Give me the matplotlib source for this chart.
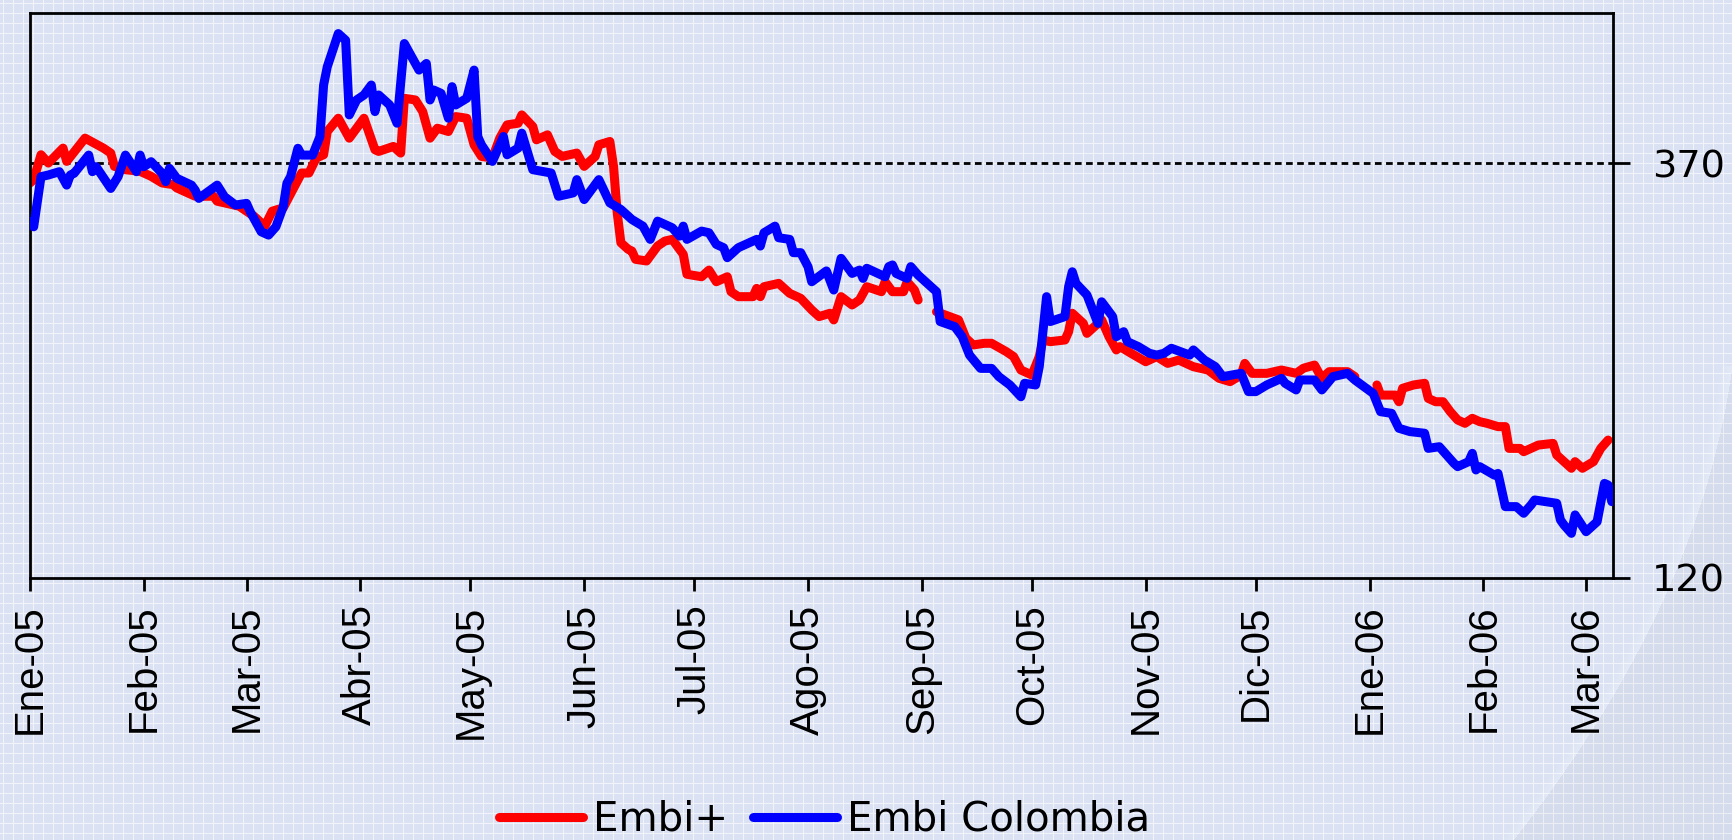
import numpy as np
import matplotlib
matplotlib.use("Agg")
from matplotlib import pyplot as plt

# days counted from 1 Jan 2005
start = np.datetime64('2005-01-01')

embi_days = [0, 1, 3, 5, 9, 10, 15, 20, 22, 23, 26, 30, 33, 36, 39, 40, 45, 50, 51, 57,
             61, 64, 66, 69, 74, 76, 78, 80, 81, 84, 87, 91, 94, 95, 99, 101, 102, 105, 107, 109,
             111, 114, 116, 119, 121, 123, 126, 128, 130, 133, 134, 137, 138, 141, 143, 145, 149, 151, 154, 155,
             158, 159, 160, 161, 163, 164, 165, 168, 171, 173, 175, 177, 178, 179, 183, 185, 187, 190, 191, 193,
             197, 198, 199, 200, 204, 207, 210, 213, 215, 218, 219, 221, 224, 226, 228, 232, 233, 235, 238, 239,
             241, 242, 244, 247, 253, 255, 257, 260, 262, 266, 268, 270, 273, 275, 276, 278, 282, 283, 284, 287,
             288, 291, 292, 294, 296, 297, 300, 304, 307, 310, 313, 317, 321, 324, 327, 330, 331, 333, 337, 341,
             345, 347, 350, 352, 354, 359, 361, 364, 367, 368, 372, 373, 374, 377, 380, 381, 383, 385, 387, 389,
             391, 393, 395, 397, 400, 402, 403, 406, 407, 411, 415, 416, 420, 421, 423, 426, 428, 430]
embi_vals = [358, 360, 375, 370, 379, 371, 385, 379, 376, 368, 366, 365, 362, 358, 357, 355, 350, 350, 347, 344,
             338, 332, 341, 343, 364, 364, 373, 375, 389, 397, 385, 397, 378, 377, 380, 376, 409, 408, 401, 385,
             391, 389, 398, 397, 381, 374, 373, 385, 393, 394, 399, 392, 384, 387, 377, 374, 376, 368, 374, 381,
             383, 368, 340, 322, 318, 317, 312, 311, 320, 323, 324, 318, 315, 303, 301.5, 305.5, 298.5, 301.5, 292.5, 289.5,
             289.5, 294.5, 289.5, 295.5, 297.5, 291.5, 288.5, 281.5, 277.5, 279.5, 275.5, 289.5, 284.5, 287.5, 295.5, 292.5, 298.5, 292.5, 292.5, 298.5,
             293.5, 287.5, np.nan, 280.4, 275.5, 264.5, 260.4, 261.4, 261.4, 256.4, 253.4, 245.3, 242.3, 253.4, 263.4, 262.4, 263.4, 268.4, 279.5, 273.4,
             267.4, 273.4, 275.5, 265.4, 257.4, 259.4, 255.4, 250.3, 253.4, 249.3, 251.3, 247.3, 245.3, 240.3, 238.3, 242.3, 249.3, 243.3, 243.3, 245.3,
             243.3, 246.4, 248.3, 240.3, 244.3, 244.3, 241.3, np.nan, 236.3, 230.2, 230.2, 226.2, 234.3, 236.3, 237.3, 228.2, 226.2, 226.2, 220.2, 215.2,
             213.2, 216.2, 214.2, 213.2, 211.2, 211.2, 198.1, 198.1, 196.1, 200.1, 201.1, 194.1, 186.1, 190.1, 186.1, 190.1, 198.1, 203.1]

col_days = [0, 1, 3, 5, 8, 10, 11, 12, 16, 17, 18, 22, 24, 26, 29, 30, 31, 33, 36, 37,
            38, 40, 44, 45, 46, 51, 53, 56, 59, 60, 63, 65, 67, 69, 70, 71, 73, 74, 77, 79,
            80, 81, 84, 86, 87, 89, 91, 93, 94, 95, 98, 100, 102, 106, 108, 109, 110, 112, 114, 115,
            116, 119, 121, 122, 123, 126, 129, 130, 133, 134, 137, 142, 144, 148, 149, 151, 155, 158, 161, 164,
            167, 169, 171, 175, 177, 178, 179, 183, 185, 187, 189, 190, 193, 198, 199, 200, 203, 204, 207, 208,
            210, 212, 213, 217, 219, 221, 224, 226, 227, 228, 233, 234, 235, 236, 239, 240, 242, 247, 248, 252,
            254, 256, 259, 262, 264, 267, 270, 271, 274, 275, 277, 278, 282, 283, 284, 285, 288, 291, 292, 295,
            296, 298, 299, 302, 305, 307, 309, 311, 316, 317, 320, 323, 325, 330, 332, 334, 337, 341, 342, 345,
            346, 350, 352, 355, 359, 361, 366, 368, 371, 373, 376, 380, 381, 384, 388, 389, 392, 393, 394, 395,
            399, 400, 402, 405, 407, 409, 410, 416, 417, 418, 420, 421, 424, 427, 429, 430, 431]
col_vals = [334.6, 331.6, 361.8, 362.8, 364.8, 356.7, 362.8, 363.8, 374.8, 364.8, 367.8, 354.7, 361.8, 374.8, 364.8, 374.8, 367.8, 370.8, 363.8, 358.8,
            366.8, 360.8, 356.7, 353.7, 348.7, 356.7, 349.7, 344.7, 345.7, 340.7, 328.6, 326.6, 331.6, 343.7, 357.8, 361.8, 378.9, 374.8, 374.8, 385.9,
            417, 428, 448, 444, 399, 408, 411, 417, 401, 411, 405, 394, 442, 426, 430, 408, 414, 412, 397, 416,
            405, 409, 426, 386, 381, 371, 386, 375, 379, 388, 366, 364, 350, 352, 360, 348, 360, 346, 342, 336,
            332, 324, 335, 331, 326, 332, 324, 329, 328, 321, 319, 313, 319, 324, 320, 328, 332, 325, 324, 316,
            316, 307.5, 298.5, 305, 293.5, 312.6, 303.5, 305.5, 300.5, 306.6, 301.5, 307.6, 308.6, 303.5, 300.5, 307.6, 302.5, 292.5, 274.5, 271.4,
            265.4, 254.3, 246.3, 246.3, 241.3, 236.3, 229.2, 237.3, 236.3, 247.3, 289.5, 274.5, 277.5, 295.5, 304.5, 297.5, 290.5, 273.4, 286.4, 277.5,
            265.4, 268.4, 262.4, 259.4, 255.4, 254.3, 255.4, 258.4, 254.3, 257.4, 251.3, 247.3, 241.3, 243.3, 232.3, 232.3, 236.3, 240.3, 237.3, 233.3,
            239.3, 239.3, 233.3, 241.3, 243.3, 239.3, 231.2, 220.2, 219.2, 210.2, 208.2, 207.2, 198.1, 199.1, 189.1, 187.1, 190.1, 195.1, 185.1, 187.1,
            182.0, 183.0, 163.0, 163.0, 159.0, 164.0, 167.0, 165.0, 155.0, 151.9, 146.9, 158.0, 147.9, 153.9, 177.0, 176.0, 166.0]

month_labels = ['Ene-05', 'Feb-05', 'Mar-05', 'Abr-05', 'May-05', 'Jun-05', 'Jul-05', 'Ago-05',
                'Sep-05', 'Oct-05', 'Nov-05', 'Dic-05', 'Ene-06', 'Feb-06', 'Mar-06']
y_ticks = [120, 370]
ref_level = 370


def make_background(h, w):
    base = np.array([0.855, 0.886, 0.953])
    img = np.ones((h, w, 3)) * base
    yy, xx = np.mgrid[0:h, 0:w]
    # faint checker texture inside the cells
    chk = ((xx + yy) % 2 == 0)
    img[chk] = img[chk] * 0.985 + 0.015
    # white grid every 10 px
    grid = (xx % 10 == 3) | (yy % 10 == 3)
    img[grid] = img[grid] * 0.35 + 0.65
    # soft swoosh bottom right
    t = yy - 365.0
    xc = 1732 - 0.1325 * t - 0.000692 * t ** 2
    d = xx - xc
    lower = yy > 365
    glow = lower & (d > -14) & (d < 0)
    k = np.where(glow, (14 + d) / 14.0, 0) * 0.22
    img = img * (1 - k[..., None]) + k[..., None]
    dark = lower & (d >= 0)
    img[dark] = img[dark] * 0.975
    return np.clip(img, 0, 1)


def draw():
    W, H = 1732, 840
    fig = plt.figure(figsize=(W / 100, H / 100), dpi=100)

    bgax = fig.add_axes([0, 0, 1, 1])
    bgax.imshow(make_background(H, W), aspect='auto', interpolation='nearest')
    bgax.axis('off')

    ax = fig.add_axes([30 / W, 262 / H, 1583 / W, 565 / H])
    ax.set_facecolor('none')

    d_embi = start + np.array(embi_days).astype('timedelta64[D]')
    d_col = start + np.array(col_days).astype('timedelta64[D]')

    ax.axhline(ref_level, color='black', lw=2, linestyle=(0, (2.4, 1.6)), zorder=1)
    ax.plot(d_embi, embi_vals, color='#ff0000', lw=6.5, label='Embi+',
            solid_capstyle='round', solid_joinstyle='round', zorder=2)
    ax.plot(d_col, col_vals, color='#0000ff', lw=6.5, label='Embi Colombia',
            solid_capstyle='round', solid_joinstyle='round', zorder=3)

    ax.set_ylim(120, 460.4)
    ax.set_xlim(start, start + np.timedelta64(431 * 24 + 8, 'h'))

    months = np.arange('2005-01', '2006-04', dtype='datetime64[M]').astype('datetime64[D]')
    ax.set_xticks(months)
    ax.set_xticklabels(month_labels, rotation=90, fontsize=29, family='Liberation Sans')
    ax.tick_params(axis='x', direction='out', length=9, width=2, pad=10, colors='black')

    ax.yaxis.tick_right()
    ax.set_yticks(y_ticks)
    ax.set_yticklabels([str(v) for v in y_ticks], fontsize=27.5)
    ax.tick_params(axis='y', direction='out', length=12, width=2, pad=16)

    for s in ax.spines.values():
        s.set_linewidth(2)
        s.set_color('black')

    h, l = ax.get_legend_handles_labels()
    fig.legend(h, l, loc='center', bbox_to_anchor=(0.476, 0.024), ncol=2, frameon=False,
               fontsize=29, handlelength=2.1, handletextpad=0.25, columnspacing=0.6)

    fig.savefig('out.png', dpi=100)


if __name__ == "__main__":
    draw()
